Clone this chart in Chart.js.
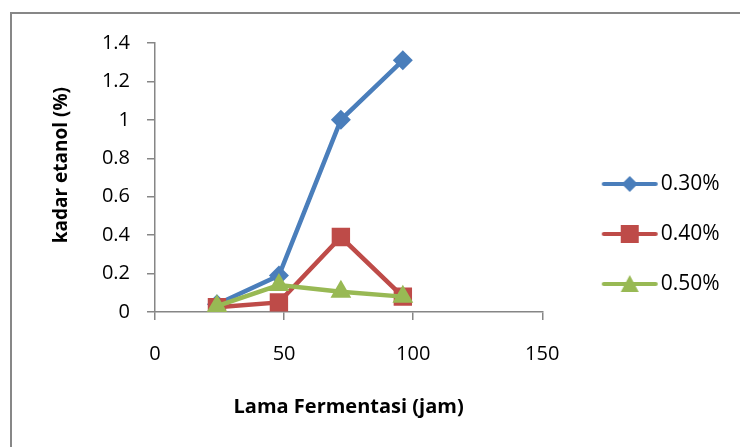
<!DOCTYPE html>
<html>
<head>
<meta charset="utf-8">
<script src="https://cdn.jsdelivr.net/npm/chart.js@4.4.1/dist/chart.umd.min.js"></script>
<style>
  body { margin: 0; overflow: hidden; background: #fff; }
  #frame { position: absolute; left: 10px; top: 12px; width: 900px; height: 600px; border: 2px solid #878787; }
  #chart { position: absolute; left: 0; top: 0; }
</style>
</head>
<body>
<div id="frame"></div>
<canvas id="chart" width="740" height="447"></canvas>
<script>
// data
const hours = [24, 48, 72, 96];
const kadar030 = [0.04, 0.19, 1.0, 1.31];
const kadar040 = [0.025, 0.05, 0.39, 0.08];
const kadar050 = [0.03, 0.14, 0.105, 0.08];
const seriesNames = ['0.30%', '0.40%', '0.50%'];
const xTickValues = [0, 50, 100, 150];
const yTickValues = [0, 0.2, 0.4, 0.6, 0.8, 1, 1.2, 1.4];

const colors = ['#4a7ebb', '#be4b48', '#98b954'];
const styles = ['rectRot', 'rect', 'triangle'];
const radii = [10, 13, 12];
const axisColor = '#868686';
const fontFamily = '"Open Sans", sans-serif';

function points(values) {
  return hours.map((h, i) => ({ x: h, y: values[i] }));
}

// line + marker picture for each legend entry, drawn in the right part
// of a wider canvas so the legend keeps a gap from the plot
function legendIcon(color, style) {
  const c = document.createElement('canvas');
  c.width = 96; c.height = 24;
  const ctx = c.getContext('2d');
  const cx = 67;
  ctx.strokeStyle = color;
  ctx.fillStyle = color;
  ctx.lineWidth = 4;
  ctx.lineCap = 'round';
  ctx.beginPath();
  ctx.moveTo(cx - 26, 12); ctx.lineTo(cx + 26, 12);
  ctx.stroke();
  ctx.beginPath();
  if (style === 'rectRot') {
    ctx.moveTo(cx, 4); ctx.lineTo(cx + 8, 12); ctx.lineTo(cx, 20); ctx.lineTo(cx - 8, 12);
  } else if (style === 'rect') {
    ctx.rect(cx - 9, 3, 18, 18);
  } else {
    ctx.moveTo(cx, 3); ctx.lineTo(cx + 9, 20); ctx.lineTo(cx - 9, 20);
  }
  ctx.closePath();
  ctx.fill();
  return c;
}

const allSeries = [kadar030, kadar040, kadar050];
const datasets = allSeries.map((vals, i) => ({
  label: seriesNames[i],
  data: points(vals),
  showLine: true,
  borderColor: colors[i],
  backgroundColor: colors[i],
  borderWidth: 4.5,
  pointStyle: styles[i],
  pointRadius: radii[i],
  pointHoverRadius: radii[i],
  pointBorderWidth: 0,
  order: 2 - i
}));

const legendGap = '  ';

new Chart(document.getElementById('chart'), {
  type: 'scatter',
  data: { datasets: datasets },
  options: {
    responsive: false,
    animation: false,
    layout: { padding: { top: 21, bottom: 0, left: 12, right: 21 } },
    plugins: {
      tooltip: { enabled: false },
      title: { display: true, text: '', font: { size: 10 }, padding: { top: 0, bottom: 10 } },
      legend: {
        position: 'right',
        labels: {
          usePointStyle: true,
          pointStyleWidth: 79,
          padding: 29,
          color: '#000',
          font: { family: fontFamily, size: 21 },
          generateLabels: () => seriesNames.map((name, i) => ({
            text: name + legendGap,
            pointStyle: legendIcon(colors[i], styles[i]),
            fillStyle: colors[i],
            strokeStyle: colors[i],
            lineWidth: 0,
            datasetIndex: i
          }))
        }
      }
    },
    scales: {
      x: {
        type: 'linear',
        min: 0,
        max: 150,
        afterBuildTicks: (axis) => { axis.ticks = xTickValues.map(v => ({ value: v })); },
        afterFit: (axis) => { axis.height = 135; },
        grid: { drawOnChartArea: false, color: axisColor, tickLength: 8, lineWidth: 1.5 },
        border: { color: axisColor, width: 1.5 },
        ticks: { color: '#000', padding: 22, font: { family: fontFamily, size: 20 } },
        title: {
          display: true,
          text: 'Lama Fermentasi (jam)',
          color: '#000',
          font: { family: fontFamily, size: 20, weight: 'bold' },
          padding: { bottom: 28 }
        }
      },
      y: {
        min: 0,
        max: 1.4,
        afterBuildTicks: (axis) => { axis.ticks = yTickValues.map(v => ({ value: v })); },
        afterFit: (axis) => { axis.width = 143; },
        grid: { drawOnChartArea: false, color: axisColor, tickLength: 8, lineWidth: 1.5 },
        border: { color: axisColor, width: 1.5 },
        ticks: {
          color: '#000',
          padding: 17,
          font: { family: fontFamily, size: 20 },
          callback: (v) => String(Math.round(v * 10) / 10)
        },
        title: {
          display: true,
          text: '     kadar etanol (%)',
          color: '#000',
          font: { family: fontFamily, size: 19, weight: 'bold' },
          padding: { top: 38 }
        }
      }
    }
  }
});
</script>
</body>
</html>
